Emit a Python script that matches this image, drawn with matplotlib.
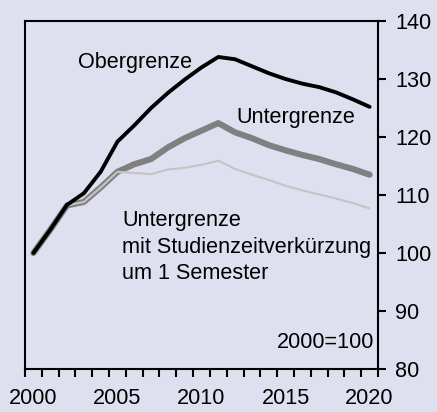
import matplotlib.pyplot as plt
import numpy as np

plt.rcParams['font.family'] = ['Liberation Sans', 'DejaVu Sans']

BG = '#dfe0ef'

years = np.arange(2000, 2021)
obergrenze = [100, 104, 108.3, 110.3, 114, 119.2, 122, 125, 127.6, 129.9, 132,
              133.8, 133.4, 132.2, 131, 130, 129.2, 128.6, 127.7, 126.5, 125.2]
untergrenze = [100, 104, 108.2, 108.8, 111.3, 114, 115.3, 116.2, 118.2, 119.8, 121.1,
               122.4, 120.8, 119.8, 118.6, 117.7, 116.9, 116.2, 115.3, 114.5, 113.5]
verkuerzung = [100, 104, 108.2, 108.8, 111.3, 114, 113.8, 113.6, 114.4, 114.7, 115.2,
               115.9, 114.5, 113.5, 112.6, 111.6, 110.8, 110.1, 109.4, 108.6, 107.7]

year_labels = [2000, 2005, 2010, 2015, 2020]
y_ticks = [80, 90, 100, 110, 120, 130, 140]

fig = plt.figure(figsize=(4.37, 4.12), dpi=100, facecolor=BG)
ax = fig.add_axes([0.0572, 0.1044, 0.8078, 0.8446], facecolor=BG)

ax.plot(years, untergrenze, color='#808080', lw=4.4, solid_capstyle='round',
        solid_joinstyle='round')
ax.plot(years, verkuerzung, color='#c4c4c4', lw=1.5, solid_capstyle='round')
ax.plot(years, obergrenze, color='black', lw=2.8, solid_capstyle='round',
        solid_joinstyle='round')

fs = 15.6
ax.text(2002.65, 132.9, 'Obergrenze', fontsize=fs, va='center', ha='left')
ax.text(2012.1, 123.3, 'Untergrenze', fontsize=fs, va='center', ha='left')
ax.text(2005.27, 101.0, 'Untergrenze\nmit Studienzeitverkürzung\num 1 Semester',
        fontsize=fs, va='center', ha='left', linespacing=1.35)
ax.text(2020.3, 84.5, '2000=100', fontsize=fs, va='center', ha='right')

ax.set_xlim(1999.5, 2020.5)
ax.set_ylim(80, 140)

ax.set_xticks(year_labels)
ax.set_xticks(np.arange(1999.5, 2021, 1), minor=True)
ax.tick_params(axis='x', which='major', length=0, pad=13.5, labelsize=fs)
ax.tick_params(axis='x', which='minor', length=6, width=1.5, direction='out')

ax.yaxis.tick_right()
ax.set_yticks(y_ticks)
ax.tick_params(axis='y', which='major', length=5.5, width=1.5, direction='out',
               pad=7, labelsize=fs)

for s in ax.spines.values():
    s.set_linewidth(1.5)

fig.savefig('out.png', dpi=100, facecolor=BG)
